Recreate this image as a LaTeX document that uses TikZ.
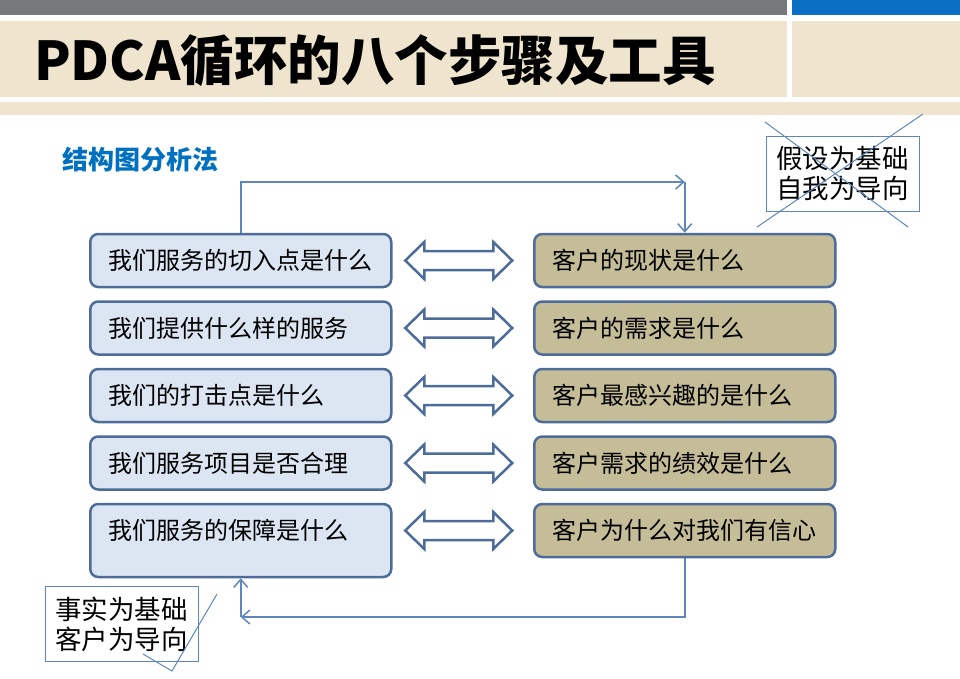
\documentclass[tikz,border=0pt]{standalone}
\usepackage{fontspec}
\setmainfont{Noto Sans CJK SC}
\usetikzlibrary{arrows.meta}
\usetikzlibrary{calc}
\definecolor{hgray}{HTML}{75797C}
\definecolor{hblue}{HTML}{0A6FC2}
\definecolor{hbeige}{HTML}{EFE4CD}
\definecolor{edge}{HTML}{4D6C99}
\definecolor{lfill}{HTML}{DCE6F2}
\definecolor{rfill}{HTML}{C4BD97}
\definecolor{linkblue}{HTML}{5E86BC}
\definecolor{headblue}{HTML}{0070C0}
\tikzset{box/.style = {draw=edge, line width=2.5pt, rounded corners=8pt, anchor=west,
    minimum height=53pt, text width=265pt, inner xsep=18pt, inner ysep=0pt, align=left,
    text height=18.5pt, text depth=0pt, font=\fontsize{24}{28}\selectfont}}
\tikzset{dbl/.style = {draw=edge, line width=2.5pt, fill=white, line join=miter}}
\tikzset{link/.style = {draw=linkblue, line width=1.5pt, -{Straight Barb[length=8pt, width=14pt]}}}
\tikzset{note/.style = {draw=linkblue, line width=1pt, minimum width=153pt, minimum height=75pt,
    inner sep=0pt, align=center, font=\fontsize{26.5}{30}\selectfont}}
\tikzset{cross/.style = {draw=linkblue, line width=1pt}}

\begin{document}
\begin{tikzpicture}[x=1pt, y=-1pt]
      \useasboundingbox (0,0) rectangle (960,678);
      % header
      \fill[hgray] (0,0) rectangle (787,15);
      \fill[hblue] (792,0) rectangle (960,15);
      \fill[hbeige] (0,21) rectangle (787,97);
      \fill[hbeige] (792,21) rectangle (960,97);
      \fill[hbeige] (0,102) rectangle (960,115);
      \node[anchor=west, inner sep=0pt, font=\fontsize{53.5}{58}\selectfont\bfseries] (title) at (34,61) {PDCA循环的八个步骤及工具};
      \node[anchor=west, inner sep=0pt, text=headblue, font=\fontsize{26}{30}\selectfont\bfseries] (method) at (62,160) {结构图分析法};
      % boxes
      \foreach \txt [count=\i] in {我们服务的切入点是什么, 我们提供什么样的服务, 我们的打击点是什么, 我们服务项目是否合理} {
        \node[box, fill=lfill] (L\i) at (89, 193+67.5*\i) {\txt};
      }
      \node[box, fill=lfill, minimum height=73pt, text depth=21pt] (L5) at (89, 540.5) {我们服务的保障是什么};
      \foreach \txt [count=\i] in {客户的现状是什么, 客户的需求是什么, 客户最感兴趣的是什么, 客户需求的绩效是什么, 客户为什么对我们有信心} {
        \node[box, fill=rfill] (R\i) at (533, 193+67.5*\i) {\txt};
      }
      \foreach \i in {1,...,5} {
        \draw[dbl] ($(L\i.east |- R\i.west)!0.5!(R\i.west)$) ++(-57.5,0) -- ++(19,-18.5) -- ++(0,9)
          -- ++(69,0) -- ++(0,-9) -- ++(19,18.5) -- ++(-19,18.5) -- ++(0,-9) -- ++(-69,0) -- ++(0,9) -- cycle;
      }
      % loop
      \coordinate (topc) at ($(R1.north |- 0,182)$);
      \coordinate (botc) at ($(L5.south |- 0,617)$);
      \draw[link] (L1.north) |- (topc);
      \draw[link] (topc) -- (R1.north);
      \draw[link] (R5.south) |- (botc);
      \draw[link] (botc) -- (L5.south);
      % notes
      \node[note] (hyp) at (842.5,173.5) {假设为基础\\自我为导向};
      \node[note] (fact) at (121.5,624) {事实为基础\\客户为导向};
      \draw[cross] (765,122) -- (908,227);
      \draw[cross] (923,114) -- (757,227);
      \draw[cross] (217,594) -- (172,671) -- (143,654);
    \end{tikzpicture}
\end{document}
